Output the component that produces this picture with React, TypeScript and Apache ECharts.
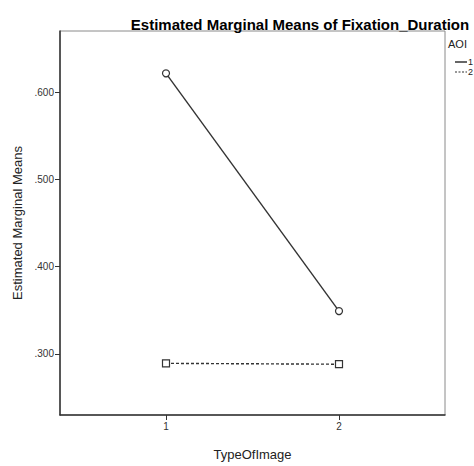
import React, { useEffect, useRef } from "react";
import * as echarts from "echarts";

const typeOfImage = [1, 2];
const aoi1 = [0.622, 0.349];
const aoi2 = [0.289, 0.288];
const yTicks = [0.3, 0.4, 0.5, 0.6];
const seriesNames = ["1", "2"];

export default function App() {
  const ref = useRef<HTMLDivElement>(null);
  useEffect(() => {
    if (!ref.current) return;
    const chart = echarts.init(ref.current, null, { renderer: "svg" });
    const font = "'Liberation Sans', Arial, sans-serif";
    chart.setOption({
      animation: false,
      backgroundColor: "#ffffff",
      title: {
        text: "Estimated Marginal Means of Fixation_Duration",
        left: 295,
        textAlign: "center",
        top: 12,
        textStyle: { fontFamily: font, fontSize: 15, fontWeight: "bold", color: "#000" },
      },
      grid: {
        left: 60,
        top: 31,
        right: 29,
        bottom: 44,
        show: true,
        borderColor: "#8a8a8a",
        borderWidth: 1,
        backgroundColor: "transparent",
      },
      xAxis: {
        type: "value",
        min: 0.3873,
        max: 2.6127,
        name: "TypeOfImage",
        nameLocation: "middle",
        nameGap: 33,
        nameTextStyle: { fontFamily: font, fontSize: 13, color: "#222" },
        axisLine: { show: true, onZero: false, lineStyle: { color: "#333", width: 1.5 } },
        axisTick: { show: true, length: 5, customValues: typeOfImage, lineStyle: { color: "#333" } },
        axisLabel: {
          customValues: typeOfImage,
          fontFamily: font,
          fontSize: 10,
          color: "#333",
          margin: 6,
        },
        splitLine: { show: false },
      },
      yAxis: {
        type: "value",
        min: 0.2297,
        max: 0.6706,
        name: "Estimated Marginal Means",
        nameLocation: "middle",
        nameGap: 36,
        nameTextStyle: { fontFamily: font, fontSize: 13, color: "#222" },
        axisLine: { show: true, onZero: false, lineStyle: { color: "#333", width: 1.5 } },
        axisTick: { show: true, length: 5, customValues: yTicks, lineStyle: { color: "#333" } },
        axisLabel: {
          customValues: yTicks,
          fontFamily: font,
          fontSize: 10,
          color: "#333",
          margin: 6,
          formatter: (v: number) => v.toFixed(3).replace(/^0/, ""),
        },
        splitLine: { show: false },
      },
      series: [
        {
          name: seriesNames[0],
          type: "line",
          data: typeOfImage.map((x, i) => [x, aoi1[i]]),
          symbol: "circle",
          symbolSize: 7,
          lineStyle: { color: "#333", width: 1.4, type: "solid" },
          itemStyle: { color: "#fff", borderColor: "#333", borderWidth: 1.2 },
        },
        {
          name: seriesNames[1],
          type: "line",
          data: typeOfImage.map((x, i) => [x, aoi2[i]]),
          symbol: "rect",
          symbolSize: 7,
          lineStyle: { color: "#333", width: 1.4, type: [3, 2] },
          itemStyle: { color: "#fff", borderColor: "#333", borderWidth: 1.2 },
        },
      ],
      graphic: [
        { type: "text", left: 448, top: 38, style: { text: "AOI", font: `11px ${font}`, fill: "#222" } },
        { type: "line", shape: { x1: 455, y1: 62, x2: 467, y2: 62 }, style: { stroke: "#333", lineWidth: 1.5 } },
        { type: "text", left: 468, top: 57, style: { text: seriesNames[0], font: `9px ${font}`, fill: "#222" } },
        { type: "line", shape: { x1: 455, y1: 72, x2: 467, y2: 72 }, style: { stroke: "#333", lineWidth: 1.2, lineDash: [2, 1.5] } },
        { type: "text", left: 468, top: 67, style: { text: seriesNames[1], font: `9px ${font}`, fill: "#222" } },
      ],
    });
    return () => chart.dispose();
  }, []);
  return <div ref={ref} style={{ width: 474, height: 466, position: "absolute", left: 0, top: 0 }} />;
}
